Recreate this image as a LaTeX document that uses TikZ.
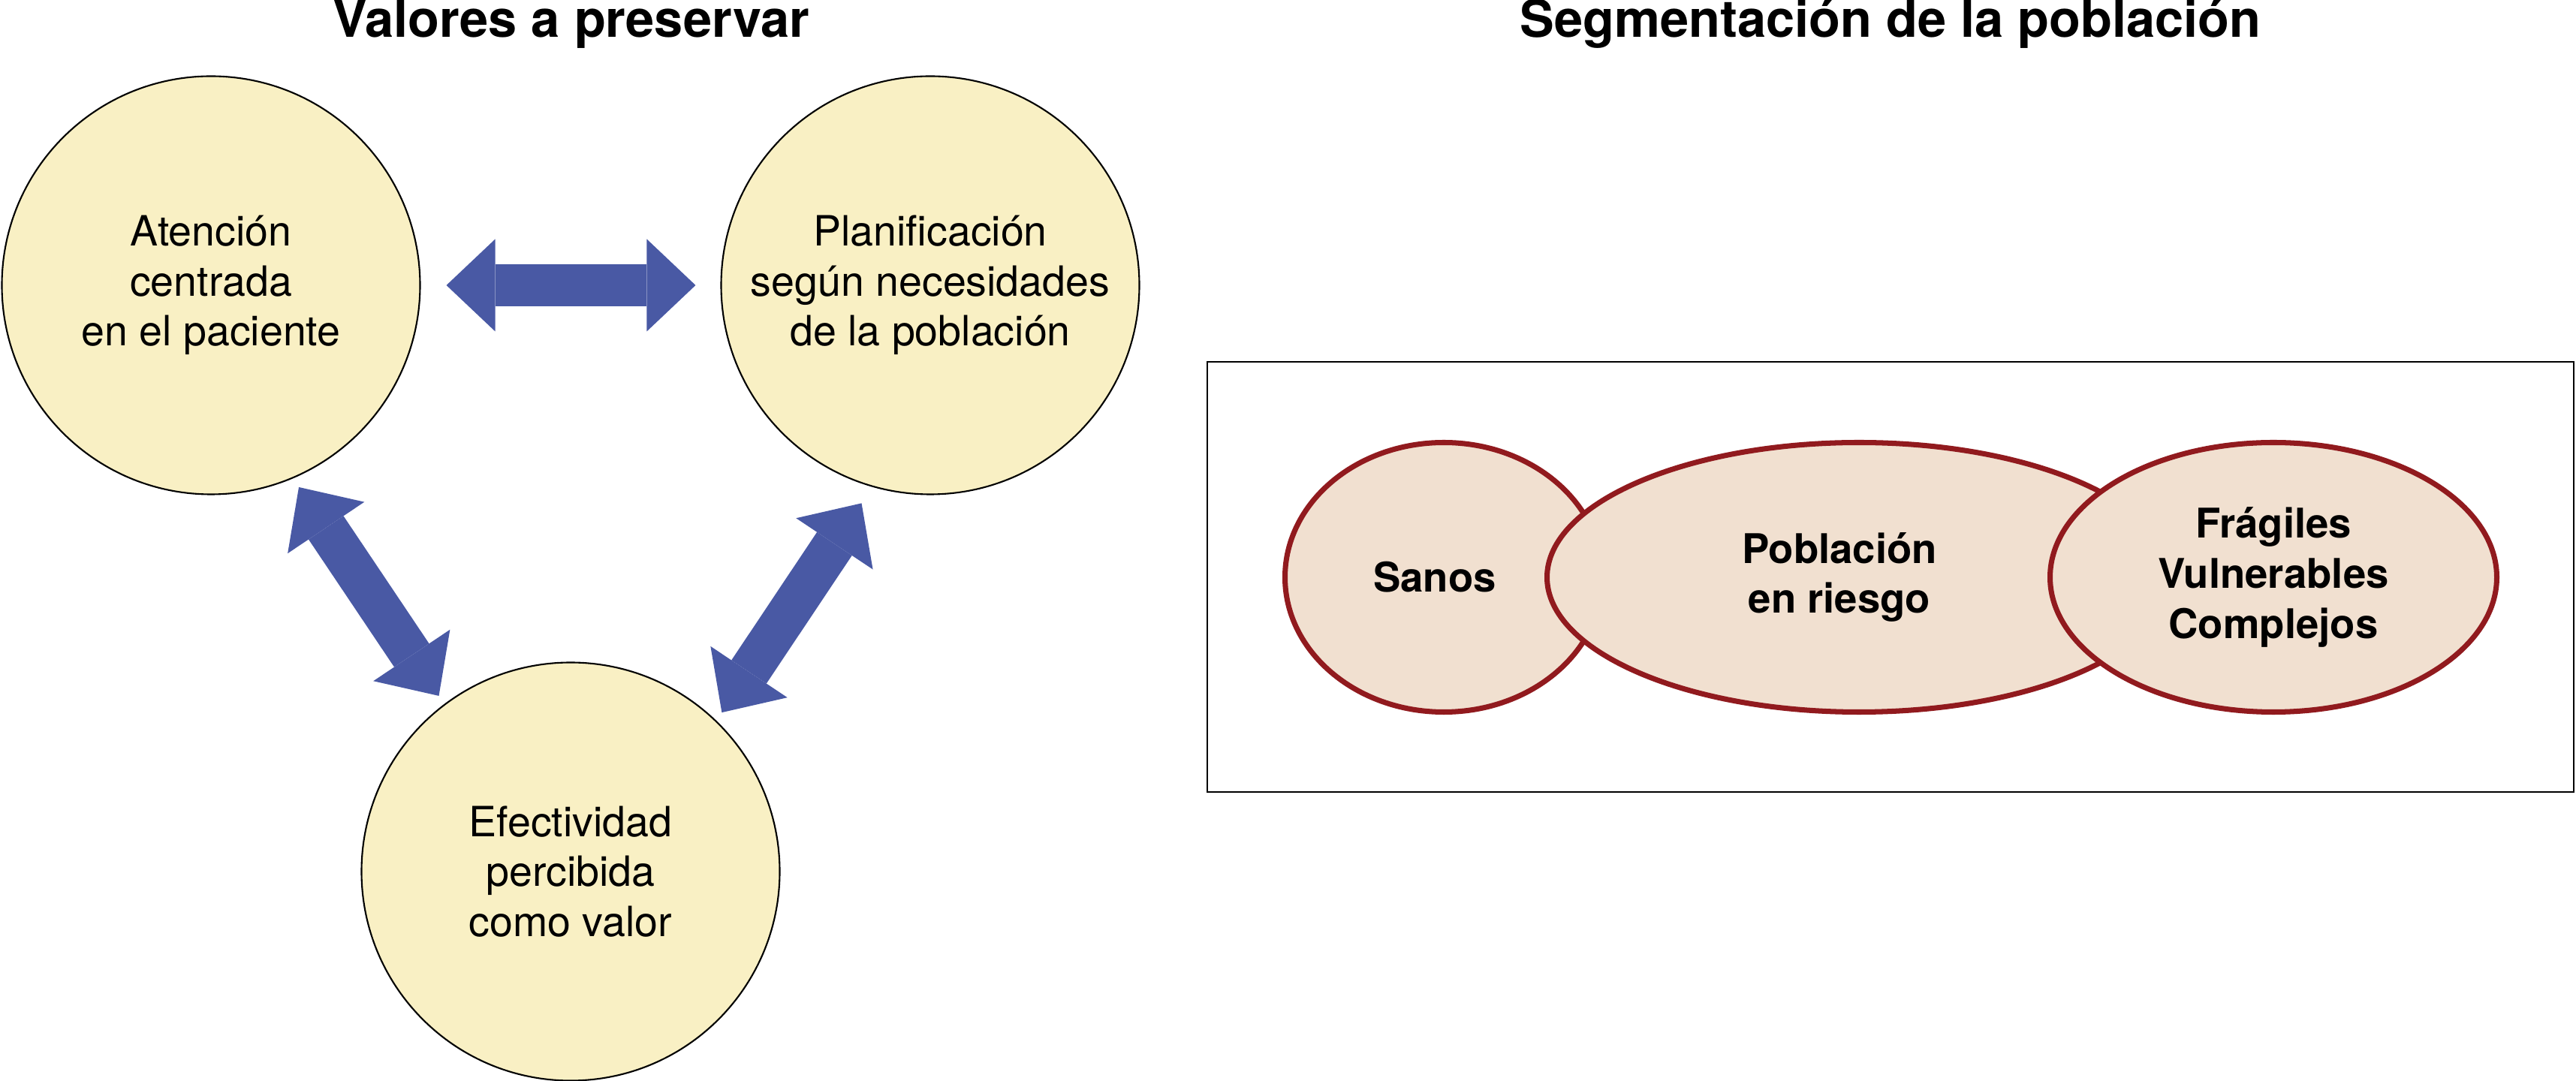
\documentclass[tikz,border=0pt]{standalone}
\usepackage{fontspec}
\setmainfont{TeX Gyre Heros}
\usepackage{tikz}
\usetikzlibrary{arrows.meta,shapes.geometric}

\definecolor{valorfill}{RGB}{249,240,196}
\definecolor{segfill}{RGB}{241,224,208}
\definecolor{segdraw}{RGB}{145,26,30}
\definecolor{flecha}{RGB}{73,89,164}

\tikzset{
	valor/.style={circle, draw=black, line width=0.6pt, fill=valorfill, minimum size=5.57cm, inner sep=0pt, align=center, font=\fontsize{15.8}{18.9}\selectfont},
	segmento/.style={ellipse, draw=segdraw, line width=2pt, fill=segfill, inner sep=0pt, minimum height=3.59cm},
	segtexto/.style={align=center, font=\bfseries\fontsize{15.5}{19}\selectfont},
	titulo/.style={anchor=base, font=\bfseries\fontsize{19.5}{22}\selectfont},
	punta/.tip={Triangle[length=0.65cm, width=1.23cm, line width=0pt]},
	doble/.style={draw=flecha, line width=0.56cm, punta-punta},
}

\begin{document}
\begin{tikzpicture}
		\useasboundingbox (0,0) rectangle (34.31,14.40);
		% valores
		\node[titulo] (tvalores) at (7.61,13.90) {Valores a preservar};
		\node[valor] (atencion) at (2.81,10.60) {Atención\\centrada\\en el paciente};
		\node[valor] (planificacion) at (12.39,10.60) {Planificación\\según necesidades\\de la población};
		\node[valor] (efectividad) at (7.60,2.79) {Efectividad\\percibida\\como valor};
		
		\draw[doble, shorten <=0.34cm, shorten >=0.33cm] (atencion.east) -- (planificacion.west);
		\draw[doble, shorten <=0.14cm, shorten >=0.13cm] (atencion.-67.8) -- (efectividad.127.9);
		\draw[doble, shorten <=0.26cm, shorten >=0.13cm] (planificacion.-106.3) -- (efectividad.46.25);
		
		% segmentacion
		\node[titulo] (tsegmentacion) at (25.18,13.90) {Segmentación de la población};
		\draw[line width=0.65pt] (16.08,3.85) rectangle (34.28,9.58);
		\node[segmento, minimum width=4.23cm] (sanos) at (19.23,6.71) {};
		\node[segmento, minimum width=8.31cm] (poblacion) at (24.76,6.71) {};
		\node[segmento, minimum width=5.95cm] (fragiles) at (30.28,6.71) {};
		\node[segtexto] (tsanos) at ([xshift=-0.12cm]sanos.center) {Sanos};
		\node[segtexto] (tpoblacion) at ([xshift=-0.26cm]poblacion.center) {Población\\en riesgo};
		\node[segtexto] (tfragiles) at (fragiles.center) {Frágiles\\Vulnerables\\Complejos};
	\end{tikzpicture}
\end{document}
